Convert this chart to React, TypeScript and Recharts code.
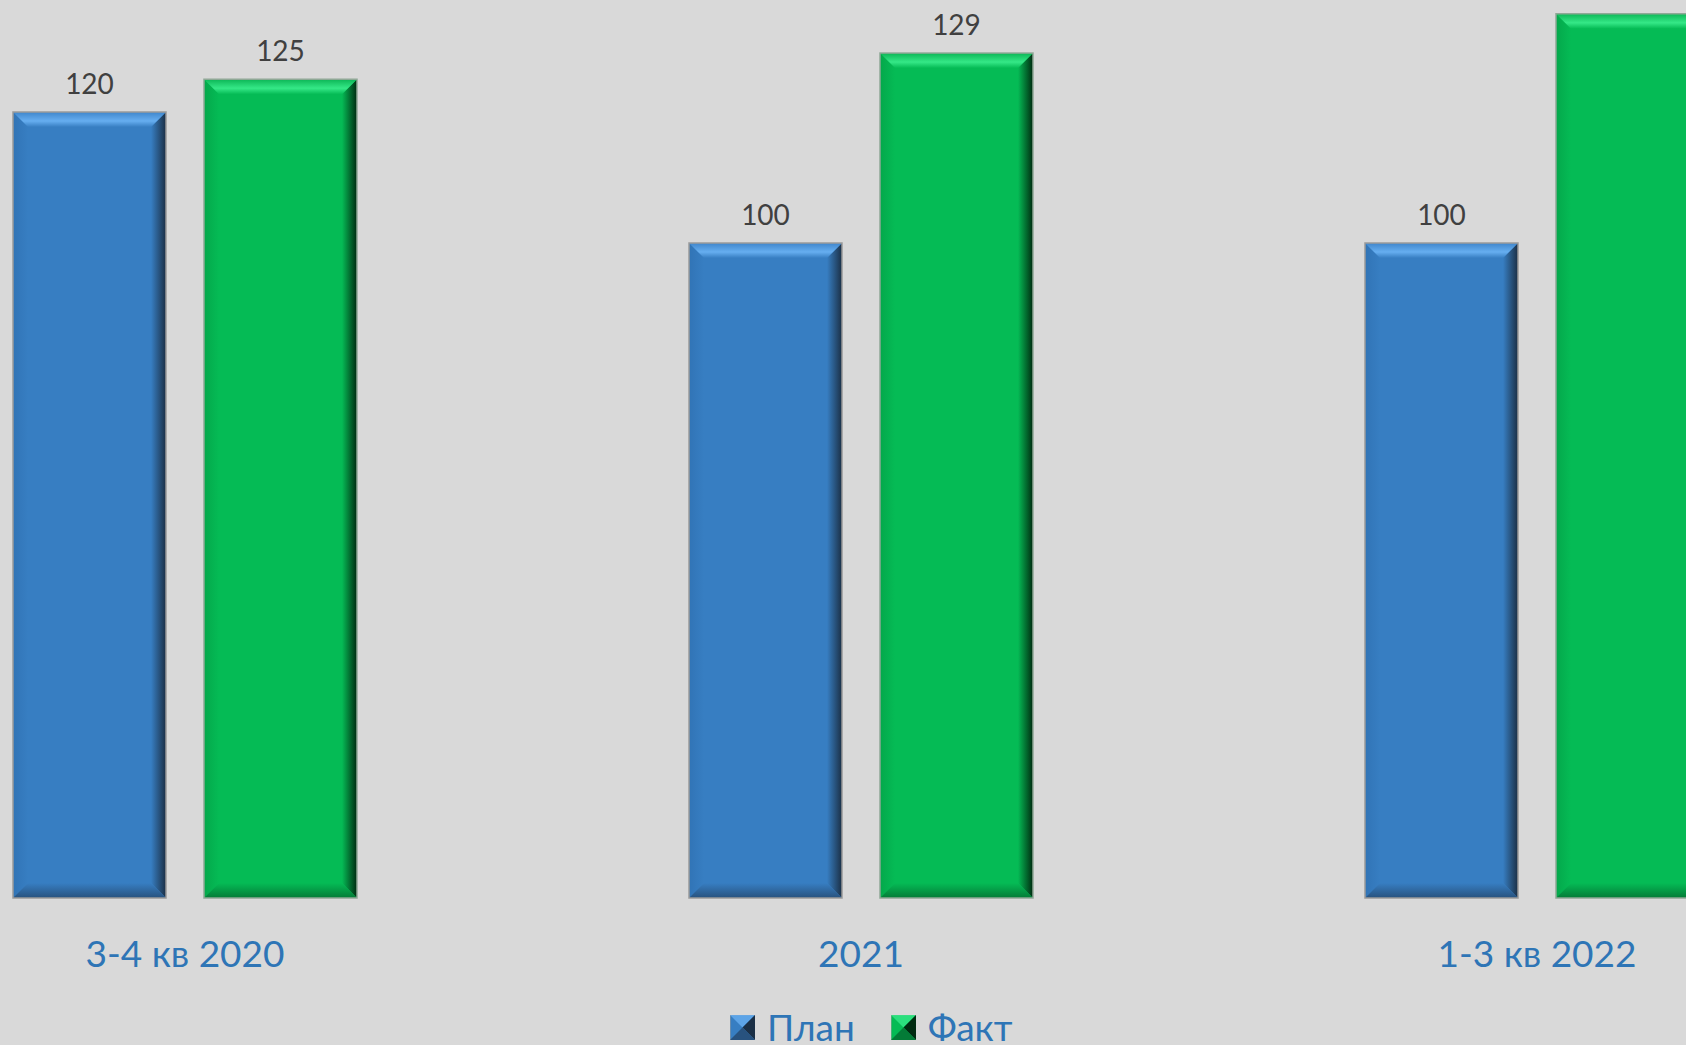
import { BarChart, Bar, XAxis, YAxis, Legend, LabelList } from 'recharts';

const categories = ['3-4 кв 2020', '2021', '1-3 кв 2022'];
const planValues = [120, 100, 100];
const factValues = [125, 129, 135];
const seriesNames = ['План', 'Факт'];

const data = categories.map((name, i) => ({
    name,
    plan: planValues[i],
    fact: factValues[i],
}));

const palettes = {
    plan: {
        key: 'plan',
        main: '#377ec2',
        topA: '#3f86cc',
        topB: '#66aef0',
        left: '#3174b6',
        right: '#1b2f45',
        bottom: '#28527e',
        edge: '#9a9a9a',
    },
    fact: {
        key: 'fact',
        main: '#05bb55',
        topA: '#0cb656',
        topB: '#35e887',
        left: '#04a84b',
        right: '#002a10',
        bottom: '#047b37',
        edge: '#8fa896',
    },
};

type Palette = typeof palettes.plan;

function bevelShape(c: Palette) {
    return (props: any) => {
        const { x, y, width: w, height: h, index } = props;
        if (!w || !h) return null;
        const b = 15;
        const id = `${c.key}-${index}`;
        return (
            <g>
                <defs>
                    <linearGradient id={`${id}-t`} x1="0" y1="0" x2="0" y2="1">
                        <stop offset="0" stopColor={c.topA} />
                        <stop offset="0.6" stopColor={c.topB} />
                        <stop offset="1" stopColor={c.main} />
                    </linearGradient>
                    <linearGradient id={`${id}-r`} x1="0" y1="0" x2="1" y2="0">
                        <stop offset="0" stopColor={c.main} />
                        <stop offset="1" stopColor={c.right} />
                    </linearGradient>
                    <linearGradient id={`${id}-l`} x1="0" y1="0" x2="1" y2="0">
                        <stop offset="0" stopColor={c.left} />
                        <stop offset="1" stopColor={c.main} />
                    </linearGradient>
                    <linearGradient id={`${id}-b`} x1="0" y1="0" x2="0" y2="1">
                        <stop offset="0" stopColor={c.main} />
                        <stop offset="1" stopColor={c.bottom} />
                    </linearGradient>
                </defs>
                <rect x={x} y={y} width={w} height={h} fill={c.main} />
                <polygon
                    points={`${x},${y} ${x + b},${y + b} ${x + b},${y + h - b} ${x},${y + h}`}
                    fill={`url(#${id}-l)`}
                />
                <polygon
                    points={`${x + w},${y} ${x + w},${y + h} ${x + w - b},${y + h - b} ${x + w - b},${y + b}`}
                    fill={`url(#${id}-r)`}
                />
                <polygon
                    points={`${x},${y + h} ${x + b},${y + h - b} ${x + w - b},${y + h - b} ${x + w},${y + h}`}
                    fill={`url(#${id}-b)`}
                />
                <polygon
                    points={`${x},${y} ${x + w},${y} ${x + w - b},${y + b} ${x + b},${y + b}`}
                    fill={`url(#${id}-t)`}
                />
                <rect x={x} y={y} width={w} height={h} fill="none" stroke={c.edge} strokeWidth={1.5} />
            </g>
        );
    };
}

function CategoryTick(props: any) {
    const { x, payload } = props;
    return (
        <text x={x} y={938 + 69} textAnchor="middle" fill="#2e75b6" fontSize={37} fontFamily="Lato">
            {payload.value}
        </text>
    );
}

function LegendBox() {
    const items = [
        { name: seriesNames[0], c: palettes.plan },
        { name: seriesNames[1], c: palettes.fact },
    ];
    return (
        <div style={{ display: 'flex', alignItems: 'center', gap: 36, fontFamily: 'Lato', color: '#2e75b6', fontSize: 37, lineHeight: '50px' }}>
            {items.map((it) => (
                <div key={it.name} style={{ display: 'flex', alignItems: 'center', gap: 12 }}>
                    <svg width={25} height={25}>
                        <rect x={0} y={0} width={25} height={25} fill={it.c.main} stroke={it.c.edge} />
                        <polygon points="0,0 25,0 12.5,12.5" fill={it.c.topB} opacity={0.8} />
                        <polygon points="25,0 25,25 12.5,12.5" fill={it.c.right} />
                        <polygon points="0,25 25,25 12.5,12.5" fill={it.c.bottom} />
                    </svg>
                    <span>{it.name}</span>
                </div>
            ))}
        </div>
    );
}

export default function App() {
    return (
        <div
            style={{
                position: 'fixed',
                left: 0,
                top: 0,
                width: 1686,
                height: 1045,
                overflow: 'hidden',
                background: '#d9d9d9',
            }}
        >
            <div style={{ position: 'absolute', left: -153, top: -40 }}>
                <BarChart
                    width={2028}
                    height={1098}
                    data={data}
                    margin={{ top: 21, right: 0, left: 0, bottom: 0 }}
                    barGap={38}
                    barSize={153}
                >
                    <XAxis
                        dataKey="name"
                        axisLine={false}
                        tickLine={false}
                        tickSize={0}
                        tickMargin={0}
                        height={110}
                        tick={<CategoryTick />}
                        interval={0}
                    />
                    <YAxis hide domain={[0, 140]} />
                    <Legend
                        content={<LegendBox />}
                        height={50}
                        wrapperStyle={{ left: 883, top: 1042, width: 340 }}
                    />
                    <Bar dataKey="plan" name={seriesNames[0]} shape={bevelShape(palettes.plan)} isAnimationActive={false}>
                        <LabelList dataKey="plan" position="top" offset={18} fill="#404040" fontSize={28} fontFamily="Lato" />
                    </Bar>
                    <Bar dataKey="fact" name={seriesNames[1]} shape={bevelShape(palettes.fact)} isAnimationActive={false}>
                        <LabelList dataKey="fact" position="top" offset={18} fill="#404040" fontSize={28} fontFamily="Lato" />
                    </Bar>
                </BarChart>
            </div>
        </div>
    );
}
